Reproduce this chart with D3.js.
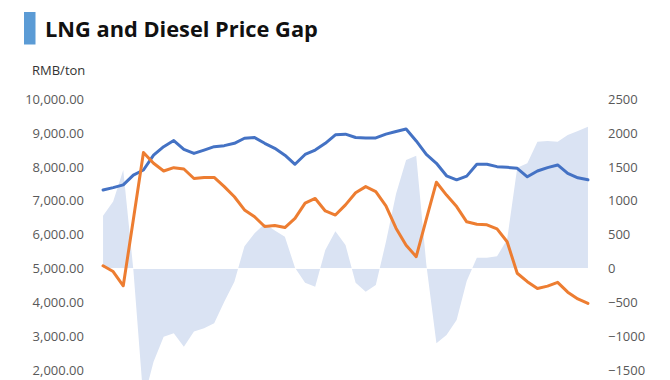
<!DOCTYPE html>
<html>
<head>
<meta charset="utf-8">
<script src="https://cdn.jsdelivr.net/npm/d3@7"></script>
<style>
  html, body { margin: 0; padding: 0; background: #ffffff; }
  svg { display: block; }
</style>
</head>
<body>
<div id="chart"></div>
<script>
// ---- data ----
const periods = d3.range(1, 50); // 49 consecutive periods (category index)
const lngPrice = [7320, 7390, 7470, 7760, 7910, 8350, 8600, 8780, 8520, 8400,
  8500, 8600, 8630, 8700, 8850, 8870, 8700, 8550, 8350, 8080,
  8370, 8500, 8700, 8950, 8970, 8870, 8860, 8860, 8970, 9050,
  9120, 8770, 8370, 8110, 7740, 7620, 7730, 8080, 8080, 8010,
  7990, 7960, 7710, 7880, 7980, 8060, 7810, 7680, 7620];
const dieselPrice = [5080, 4910, 4490, 6450, 8430, 8110, 7880, 7980, 7940, 7660,
  7690, 7690, 7420, 7120, 6730, 6530, 6240, 6270, 6210, 6480,
  6930, 7070, 6700, 6580, 6880, 7240, 7420, 7270, 6850, 6190,
  5690, 5350, 6460, 7550, 7170, 6830, 6380, 6310, 6290, 6170,
  5790, 4860, 4610, 4410, 4480, 4590, 4300, 4100, 3970];
const priceGap = [780, 990, 1455, -20, -1950, -1377, -1010, -958, -1155, -930,
  -884, -810, -490, -195, 330, 520, 660, 560, 470, 10,
  -210, -268, 273, 550, 347, -210, -343, -244, 390, 1100,
  1603, 1667, 60, -1105, -983, -761, -185, 160, 160, 180,
  430, 1490, 1554, 1874, 1884, 1874, 1973, 2032, 2095];
const leftTicks = [2000, 3000, 4000, 5000, 6000, 7000, 8000, 9000, 10000];
const rightTicks = [-1500, -1000, -500, 0, 500, 1000, 1500, 2000, 2500];
const titleText = "LNG and Diesel Price Gap";
const unitText = "RMB/ton";

// ---- layout ----
const W = 670, H = 380;
const plot = { left: 98, right: 593, top: 99.3, bottom: 437.7 };

const svg = d3.select("#chart").append("svg")
  .attr("width", W).attr("height", H)
  .style("font-family", "'Open Sans', 'Noto Sans', sans-serif");

svg.append("rect").attr("width", W).attr("height", H).attr("fill", "#ffffff");

const x = d3.scalePoint().domain(periods).range([plot.left, plot.right]).padding(0.5);
const yL = d3.scaleLinear().domain([0, 10000]).range([plot.bottom, plot.top]);
const yR = d3.scaleLinear().domain([-2500, 2500]).range([plot.bottom, plot.top]);

// title
svg.append("rect").attr("x", 24).attr("y", 12).attr("width", 11.5).attr("height", 32.5)
  .attr("fill", "#5b9bd5");
svg.append("text").attr("x", 45).attr("y", 37)
  .attr("font-size", 21.8).attr("font-weight", "bold").attr("fill", "#111")
  .text(titleText);
svg.append("text").attr("x", 32).attr("y", 75)
  .attr("font-size", 13).attr("fill", "#333")
  .text(unitText);

// area (right axis)
const area = d3.area()
  .x((d, i) => x(periods[i]))
  .y0(yR(0))
  .y1(d => yR(d));
svg.append("path").datum(priceGap)
  .attr("d", area).attr("fill", "#dae3f3");
svg.append("line")
  .attr("x1", x(periods[0])).attr("x2", x(periods[periods.length - 1]))
  .attr("y1", yR(0)).attr("y2", yR(0))
  .attr("stroke", "#ffffff").attr("stroke-width", 1);

// lines (left axis)
const line = d3.line().x((d, i) => x(periods[i])).y(d => yL(d));
svg.append("path").datum(lngPrice).attr("d", line)
  .attr("fill", "none").attr("stroke", "#4472c4").attr("stroke-width", 3)
  .attr("stroke-linejoin", "round").attr("stroke-linecap", "round");
svg.append("path").datum(dieselPrice).attr("d", line)
  .attr("fill", "none").attr("stroke", "#ed7d31").attr("stroke-width", 3)
  .attr("stroke-linejoin", "round").attr("stroke-linecap", "round");

// axes
const fmtL = d3.format(",.2f");
const axL = svg.append("g").attr("transform", `translate(${plot.left - 14},0)`)
  .call(d3.axisLeft(yL).tickValues(leftTicks).tickFormat(fmtL).tickSize(0).tickPadding(0));
const axR = svg.append("g").attr("transform", `translate(${plot.right + 15},0)`)
  .call(d3.axisRight(yR).tickValues(rightTicks).tickFormat(d3.format("d")).tickSize(0).tickPadding(0));
[axL, axR].forEach(g => {
  g.select(".domain").remove();
  g.selectAll("text").attr("font-size", 13).attr("fill", "#595959")
    .attr("font-family", "'Open Sans', 'Noto Sans', sans-serif");
});
</script>
</body>
</html>
